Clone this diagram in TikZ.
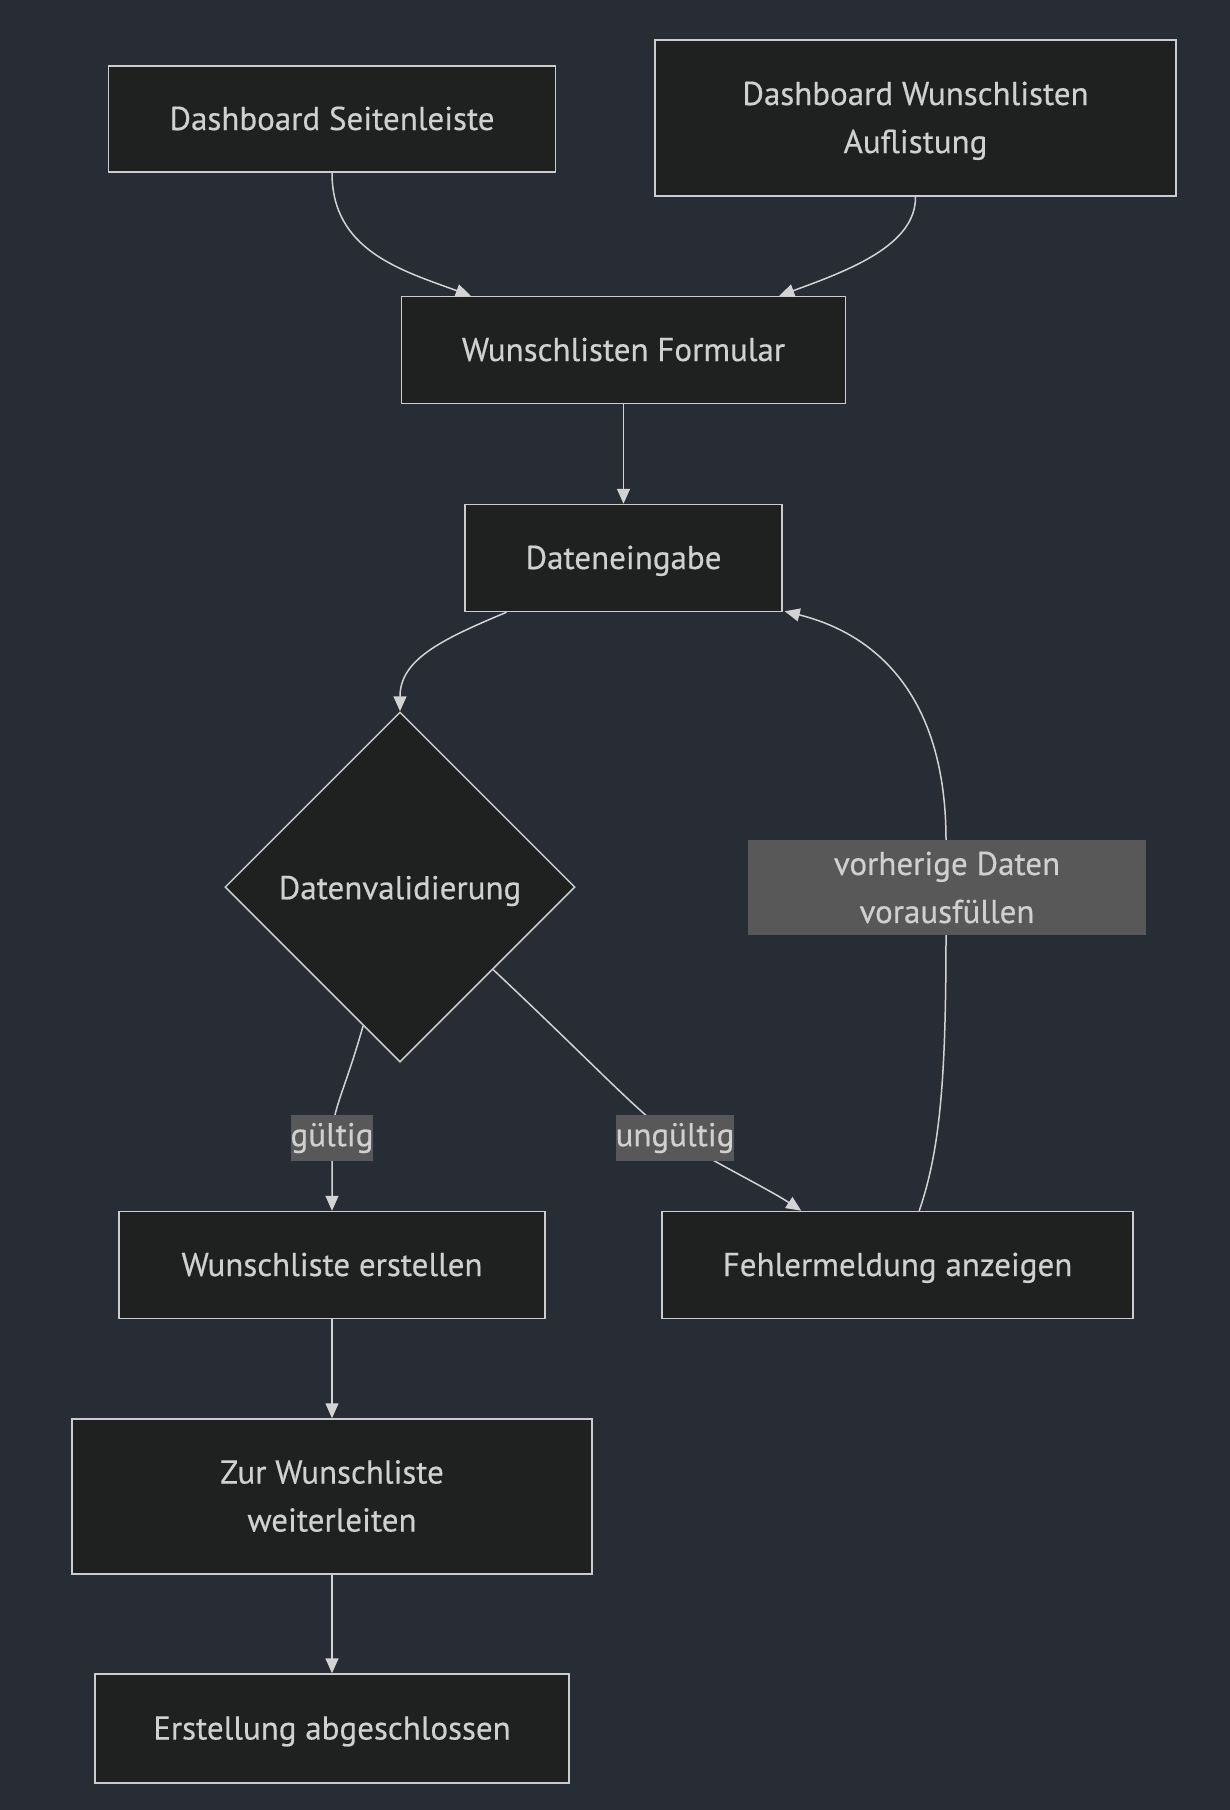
\documentclass[tikz,border=0pt]{standalone}
\usepackage{fontspec}
\setmainfont{PT Sans}[FakeBold=0.4]
\usetikzlibrary{shapes.geometric,arrows.meta,calc}
\definecolor{bgc}{HTML}{282C34}
\definecolor{nodefill}{HTML}{1F2020}
\definecolor{strokec}{HTML}{CCCCCC}
\definecolor{txtc}{HTML}{D0D0D0}
\definecolor{lblfill}{HTML}{585858}
\definecolor{edgec}{HTML}{D3D3D3}
\newcommand{\fsz}{\fontsize{33}{48}\selectfont}
\newcommand{\topstrut}{\rule[-9pt]{0pt}{40pt}}
\newcommand{\botstrut}{\rule[-9pt]{0pt}{9pt}}
\begin{document}
\begin{tikzpicture}[x=1pt,y=1pt,
  boxbase/.style={draw=strokec, fill=nodefill, line width=1.5pt, text=txtc, align=center, inner sep=0pt, font=\fsz},
  box/.style={boxbase, execute at begin node=\topstrut, execute at end node=\botstrut},
  decision/.style={diamond, draw=strokec, fill=nodefill, line width=1.5pt, inner sep=0pt, minimum width=350pt, minimum height=350pt},
  lbl/.style={fill=lblfill, text=txtc, align=center, inner sep=0pt, font=\fsz},
  conn/.style={draw=edgec, line width=1.5pt, -{Triangle[length=15pt,width=13pt]}}
]
\fill[bgc] (0,0) rectangle (1230,-1810);
\useasboundingbox (0,0) rectangle (1230,-1810);

\node[box, minimum width=447pt, minimum height=106pt] (side) at (332,-119) {Dashboard Seitenleiste};
\node[boxbase, minimum width=521pt, minimum height=156pt] (list) at (915.5,-118) {\topstrut Dashboard Wunschlisten\\Auflistung\botstrut};
\node[box, minimum width=444pt, minimum height=107pt] (form) at (623.5,-350) {Wunschlisten Formular};
\node[box, minimum width=317pt, minimum height=107pt] (input) at (623.5,-558) {Dateneingabe};
\node[decision] (dia) at (400,-887) {};
\node[text=txtc, font=\fsz, inner sep=0pt] (dialbl) at (400,-891) {Datenvalidierung};
\node[box, minimum width=426pt, minimum height=107pt] (create) at (332,-1265) {Wunschliste erstellen};
\node[box, minimum width=471pt, minimum height=107pt] (error) at (897.5,-1265) {Fehlermeldung anzeigen};
\node[boxbase, minimum width=520pt, minimum height=155pt] (redir) at (332,-1496.5) {\topstrut Zur Wunschliste\\weiterleiten\botstrut};
\node[box, minimum width=474pt, minimum height=109pt] (done) at (332,-1728.5) {Erstellung abgeschlossen};

\coordinate (gpos) at (332,-1138);
\coordinate (upos) at (675,-1138);
\coordinate (ppos) at (947,-887.5);

% edges
\draw[conn] (side.south) .. controls (332,-250) and (400,-270) .. ($(form.north west)+(70,0)$);
\draw[conn] (list.south) .. controls (916,-245) and (850,-270) .. ($(form.north east)+(-67,0)$);
\draw[conn] (form.south) -- (input.north);
\draw[conn] ($(input.south)+(-117,0)$) .. controls (440,-640) and (400,-660) .. (dia.north);
\draw[conn] ($(dia.west)!0.79!(dia.south)$) .. controls (345,-1090) and (332,-1110) .. (gpos) -- (create.north);
\draw[conn] ($(dia.east)!0.47!(dia.south)$) .. controls (600,-1070) and (640,-1115) .. (upos) .. controls (710,-1160) and (770,-1190) .. ($(error.north west)+(140,0)$);
\draw[conn] ($(error.north west)+(258,0)$) .. controls (940,-1150) and (946,-1080) .. (946,-935) -- (946,-840) .. controls (946,-700) and (880,-635) .. ($(input.south east)+(2,1)$);
\draw[conn] (create.south) -- (redir.north);
\draw[conn] (redir.south) -- (done.north);

\node[lbl, minimum width=81pt, minimum height=46pt] (glbl) at (gpos) {gültig};
\node[lbl, minimum width=116pt, minimum height=46pt] (ulbl) at (upos) {ungültig};
\node[lbl, minimum width=398pt, minimum height=95pt] (plbl) at (ppos) {vorherige Daten\\vorausfüllen};
\end{tikzpicture}
\end{document}
